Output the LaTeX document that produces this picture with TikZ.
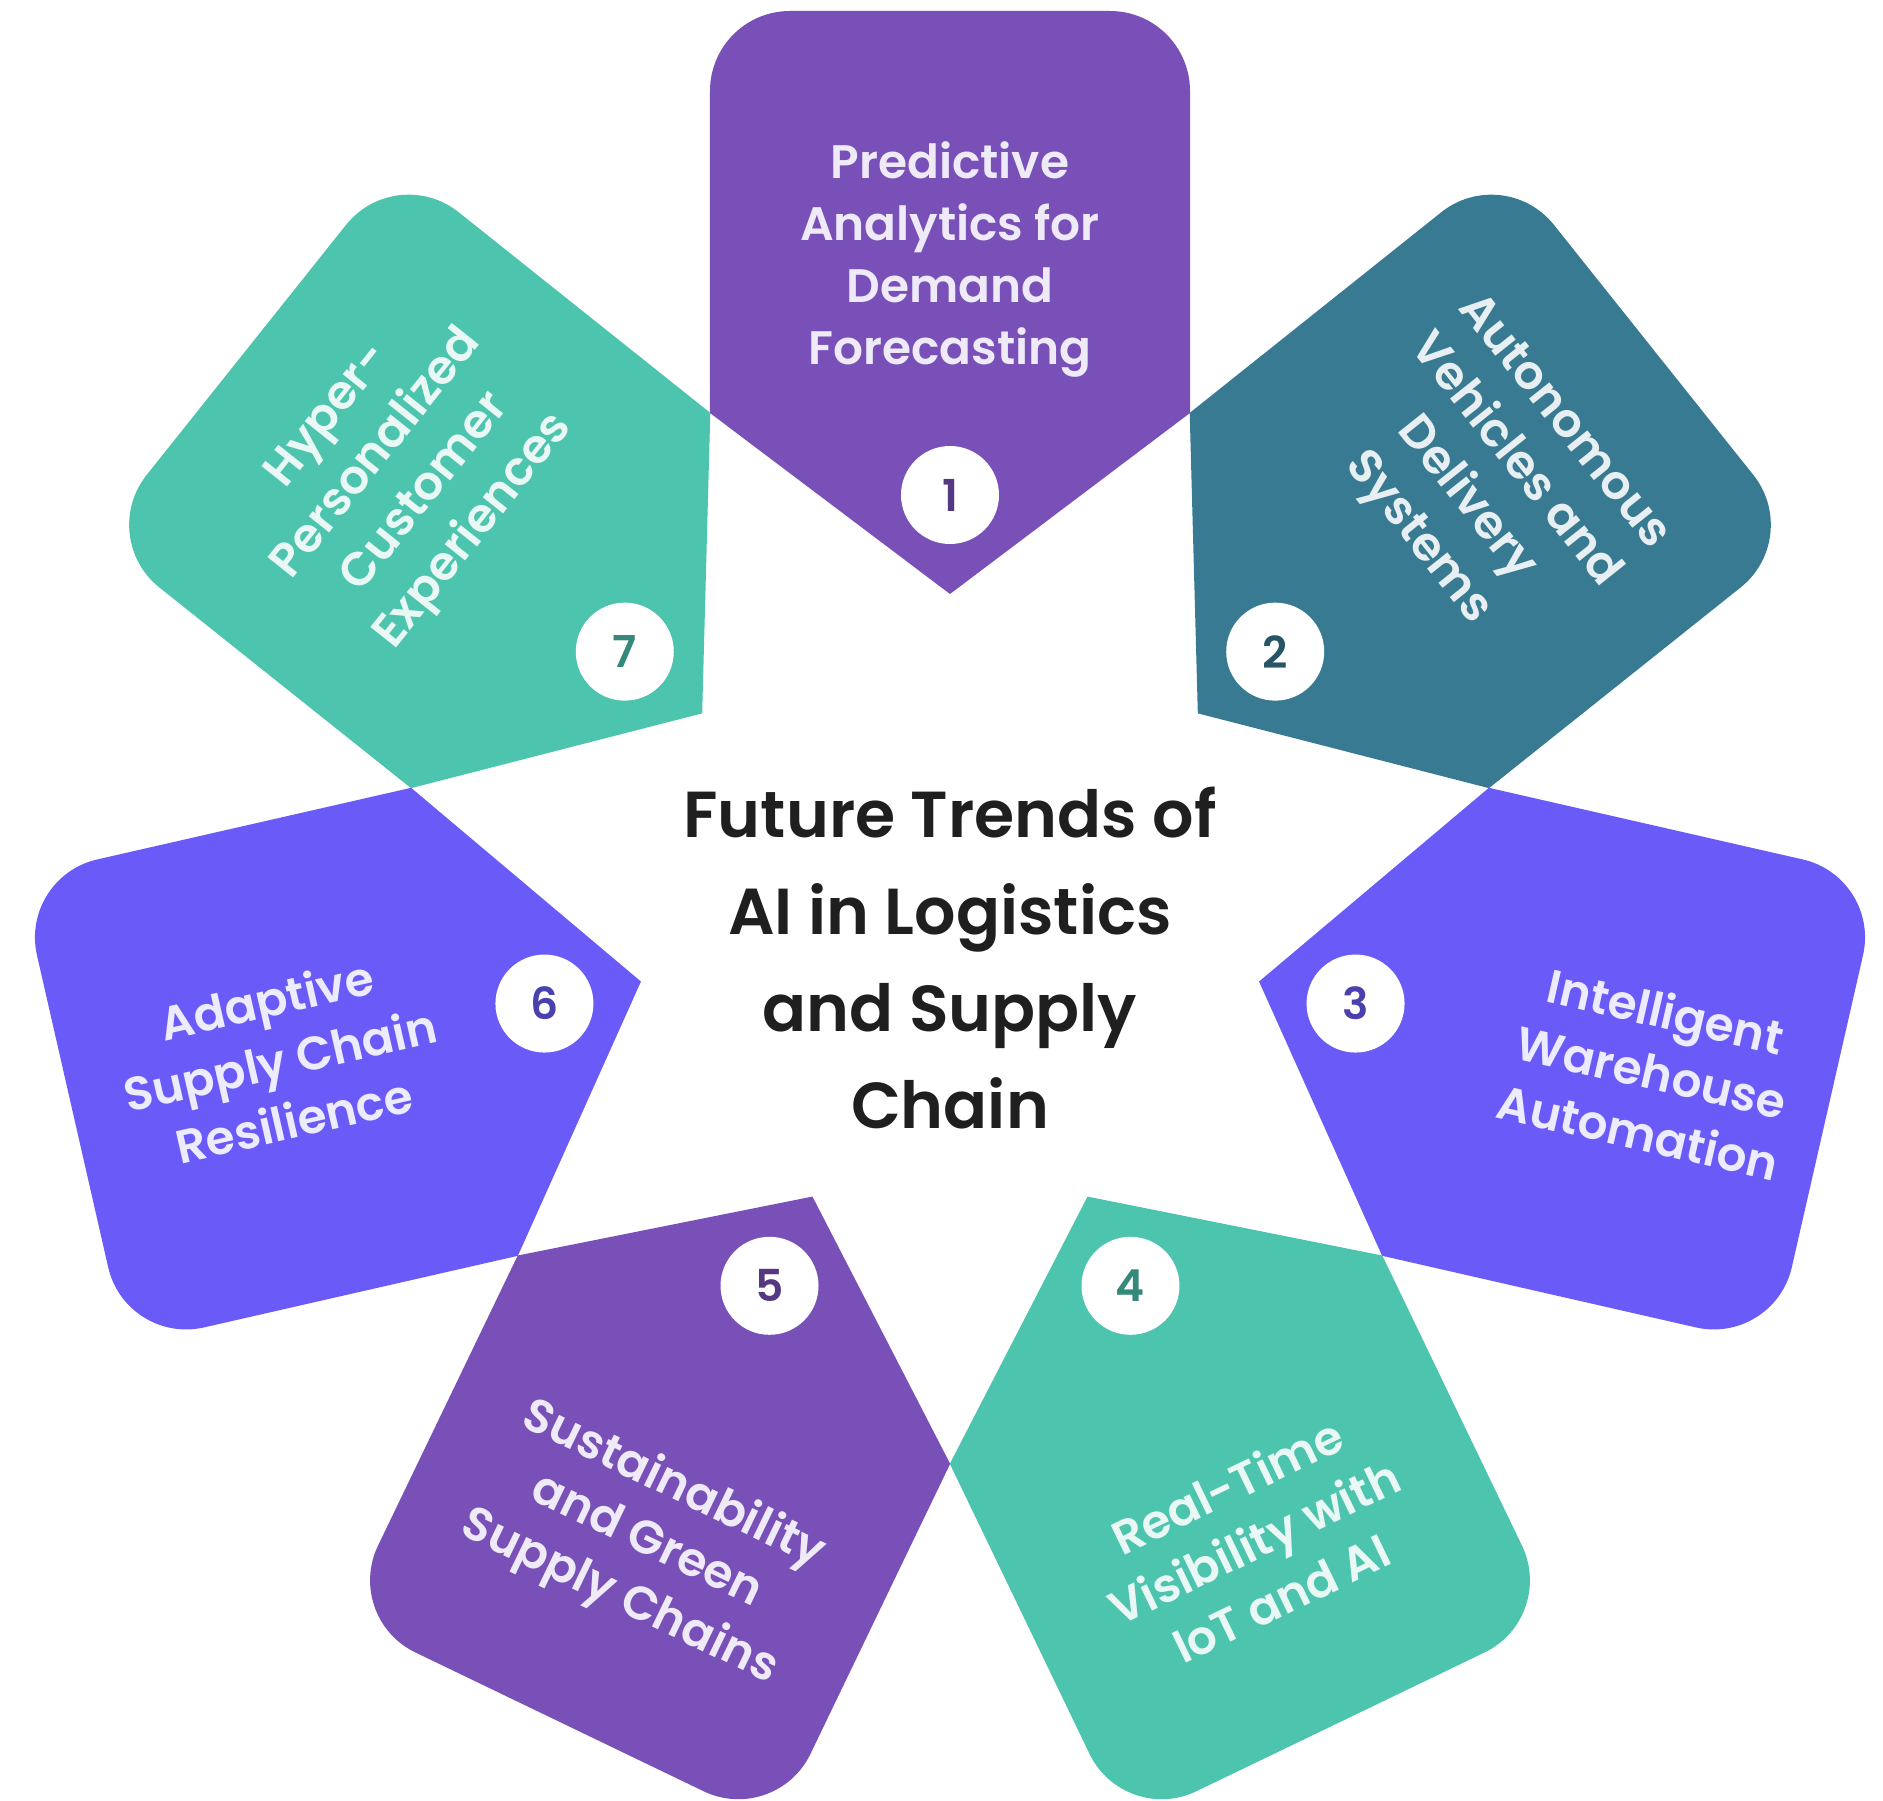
\documentclass[tikz,border=0pt]{standalone}
\usepackage{fontspec}
\setmainfont{Poppins}[BoldFont={Poppins SemiBold}]
\definecolor{plum}{HTML}{7850B8}
\definecolor{slateteal}{HTML}{387A92}
\definecolor{iris}{HTML}{6A5BF8}
\definecolor{mint}{HTML}{4CC4AE}
\begin{document}
\begin{tikzpicture}[x=0.5pt,y=0.5pt,
    lbl/.style={text=white!88!#1,font=\bfseries\fontsize{23.5}{31}\selectfont,align=center},
    num/.style={circle,fill=white,minimum size=49pt,inner sep=0pt,text=#1!70!black,font=\bfseries\fontsize{22}{22}\selectfont},
    title/.style={text=black!88,font=\bfseries\fontsize{32.5}{48.5}\selectfont,align=center}]
  \useasboundingbox[fill=white] (-950,-889) rectangle (933,911);
  % petals
  \fill[plum] (0,317) -- (-240,498) -- (-240,820) arc[start angle=180,end angle=90,radius=80] -- (160,900) arc[start angle=90,end angle=0,radius=80] -- (240,498) -- cycle;
  \fill[slateteal,rotate=-51.429] (0,317) -- (-240,498) -- (-240,820) arc[start angle=180,end angle=90,radius=80] -- (160,900) arc[start angle=90,end angle=0,radius=80] -- (240,498) -- cycle;
  \fill[iris,rotate=-102.857] (0,317) -- (-240,498) -- (-240,820) arc[start angle=180,end angle=90,radius=80] -- (160,900) arc[start angle=90,end angle=0,radius=80] -- (240,498) -- cycle;
  \fill[mint,rotate=-154.286] (0,317) -- (-240,498) -- (-240,820) arc[start angle=180,end angle=90,radius=80] -- (160,900) arc[start angle=90,end angle=0,radius=80] -- (240,498) -- cycle;
  \fill[plum,rotate=-205.714] (0,317) -- (-240,498) -- (-240,820) arc[start angle=180,end angle=90,radius=80] -- (160,900) arc[start angle=90,end angle=0,radius=80] -- (240,498) -- cycle;
  \fill[iris,rotate=-257.143] (0,317) -- (-240,498) -- (-240,820) arc[start angle=180,end angle=90,radius=80] -- (160,900) arc[start angle=90,end angle=0,radius=80] -- (240,498) -- cycle;
  \fill[mint,rotate=-308.571] (0,317) -- (-240,498) -- (-240,820) arc[start angle=180,end angle=90,radius=80] -- (160,900) arc[start angle=90,end angle=0,radius=80] -- (240,498) -- cycle;
  % labels
  \node[lbl=plum] (p1) at (90:652) {Predictive\\Analytics for\\Demand\\Forecasting};
  \node[lbl=slateteal,rotate=-51.429] (p2) at (38.571:690) {Autonomous\\Vehicles and\\Delivery\\Systems};
  \node[lbl=iris,rotate=-12.857] (p3) at (-12.857:720) {Intelligent\\Warehouse\\Automation};
  \node[lbl=mint,rotate=25.714] (p4) at (-64.286:700) {Real-Time\\Visibility with\\IoT and AI};
  \node[lbl=plum,rotate=-25.714] (p5) at (-115.714:700) {Sustainability\\and Green\\Supply Chains};
  \node[lbl=iris,rotate=12.857] (p6) at (-167.5:686) {Adaptive\\Supply Chain\\Resilience};
  \node[lbl=mint,rotate=51.429] (p7) at (141.429:700) {Hyper-\\Personalized\\Customer\\Experiences};
  % numbers
  \node[num=plum] (n1) at (90:416) {1};
  \node[num=slateteal] (n2) at (38.571:416) {2};
  \node[num=iris] (n3) at (-12.857:416) {3};
  \node[num=mint] (n4) at (-64.286:416) {4};
  \node[num=plum] (n5) at (-115.714:416) {5};
  \node[num=iris] (n6) at (-167.143:416) {6};
  \node[num=mint] (n7) at (141.429:416) {7};
  % centre
  \node[title] (ttl) at (0,-47) {Future Trends of\\AI in Logistics\\and Supply\\Chain};
\end{tikzpicture}
\end{document}
